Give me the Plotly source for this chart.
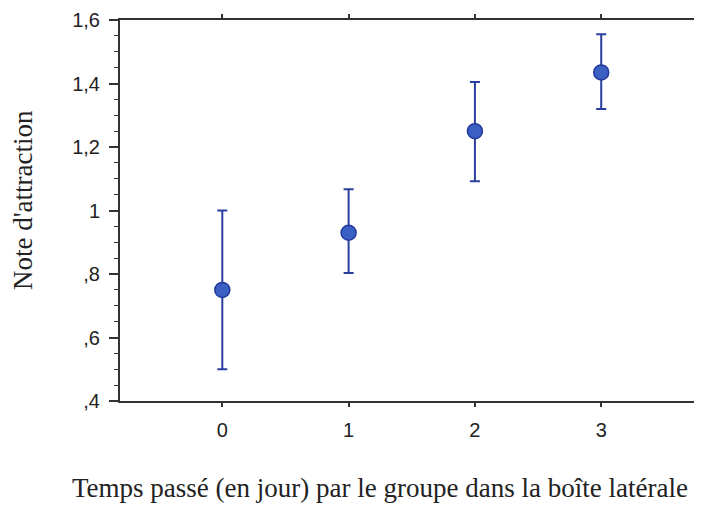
import plotly.graph_objects as go

days = [0, 1, 2, 3]
mean_scores = [0.75, 0.93, 1.25, 1.435]
upper_ci = [1.0, 1.067, 1.405, 1.555]
lower_ci = [0.5, 0.803, 1.092, 1.32]

y_tickvals = [0.4, 0.6, 0.8, 1.0, 1.2, 1.4, 1.6]
y_ticktext = [",4", ",6", ",8", "1", "1,2", "1,4", "1,6"]
x_ticktext = ["0", "1", "2", "3"]

err_plus = [u - m for u, m in zip(upper_ci, mean_scores)]
err_minus = [m - l for m, l in zip(mean_scores, lower_ci)]

fig = go.Figure()
fig.add_trace(go.Scatter(
    x=days, y=mean_scores, mode="markers",
    marker=dict(size=15, color="#3b60c4", line=dict(color="#23389a", width=1.5)),
    error_y=dict(type="data", symmetric=False, array=err_plus, arrayminus=err_minus,
                 color="#2b3f9e", thickness=2, width=5),
    showlegend=False,
))

serif = "Liberation Serif, Times New Roman, serif"
plot_h = 497 - 12 - 104

# page has an 8px body margin; figure sized to fit the 702x505 window
fig.update_layout(
    width=694, height=497,
    margin=dict(l=112, r=1, t=12, b=104),
    plot_bgcolor="white", paper_bgcolor="white",
    font=dict(family="Liberation Sans, Arial, sans-serif", size=20, color="#222"),
    xaxis=dict(
        range=[-0.81, 3.79], tickvals=days, ticktext=x_ticktext,
        showgrid=False, zeroline=False, automargin=False,
        showline=True, linecolor="#333", linewidth=2, mirror="ticks",
        ticks="outside", ticklen=4, tickcolor="#333", tickwidth=1.5,
        ticklabelstandoff=6,
    ),
    yaxis=dict(
        range=[0.4, 1.6], tickvals=y_tickvals, ticktext=y_ticktext,
        showgrid=False, zeroline=False, automargin=False,
        showline=True, linecolor="#333", linewidth=2, mirror=True,
        ticks="outside", ticklen=9, tickcolor="#333", tickwidth=1.5,
        ticklabelstandoff=5, ticklabeloverflow="allow",
        minor=dict(dtick=0.05, tick0=0.4, ticks="outside", ticklen=4, tickcolor="#333", tickwidth=1.2, showgrid=False),
    ),
    annotations=[
        dict(text="Temps passé (en jour) par le groupe dans la boîte latérale",
             xref="paper", yref="paper", x=(380 - 120) / 581, y=-87 / plot_h,
             xanchor="center", yanchor="middle", showarrow=False,
             font=dict(family=serif, size=27, color="#222")),
        dict(text="Note d'attraction",
             xref="paper", yref="paper", x=-(120 - 23) / 581, y=(393 - 192) / plot_h,
             xanchor="center", yanchor="middle", showarrow=False, textangle=-90,
             font=dict(family=serif, size=27, color="#222")),
    ],
)

fig.write_html("out.html")
